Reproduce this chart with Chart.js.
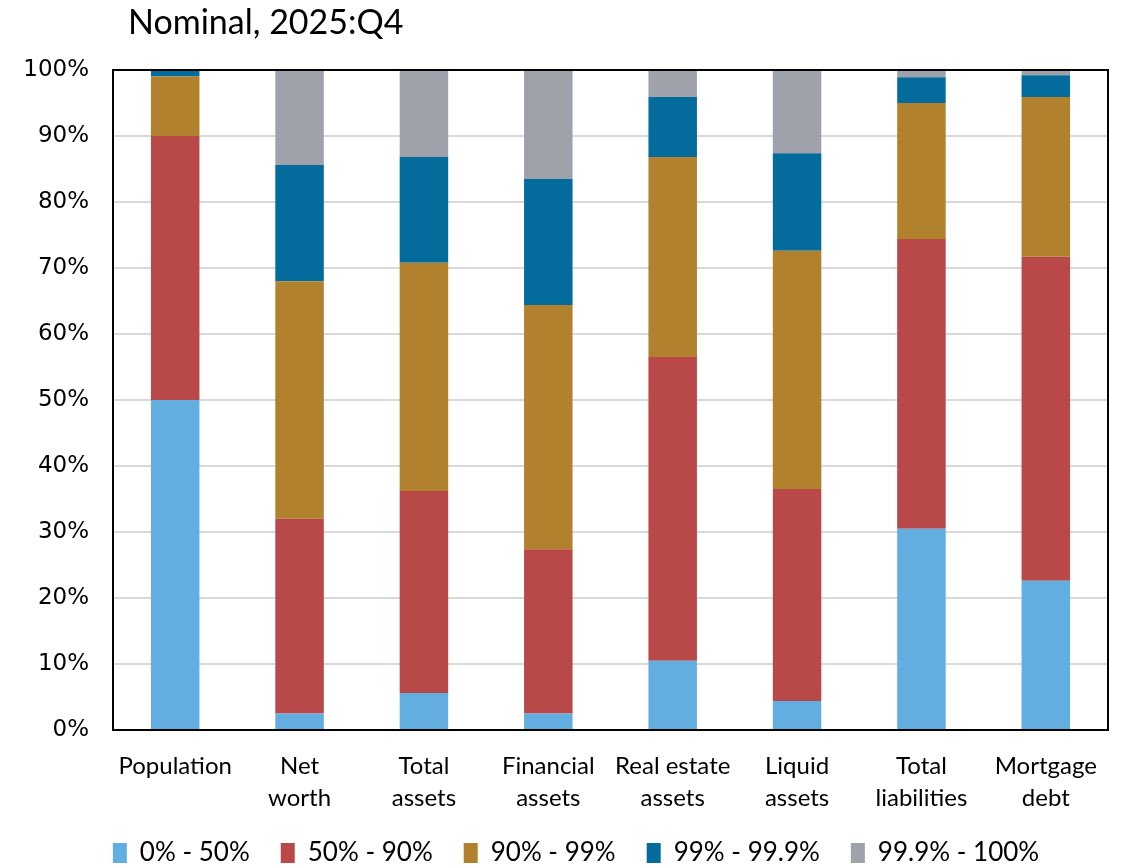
<!DOCTYPE html>
<html>
<head>
<meta charset="utf-8">
<script src="https://cdn.jsdelivr.net/npm/chart.js@4.4.1/dist/chart.umd.min.js"></script>
<style>
	html, body { margin: 0; padding: 0; background: #fff; }
	#wrap { position: relative; width: 1132px; height: 868px; }
	#title { position: absolute; left: 128px; top: 0px; font: 34px Lato, sans-serif; color: #000; }
	canvas { position: absolute; left: 0; top: 0; }
</style>
</head>
<body>
<div id="wrap">
	<canvas id="c" width="1132" height="868"></canvas>
	<div id="title">Nominal, 2025:Q4</div>
</div>
<script>
var categories = [
	["Population"],
	["Net", "worth"],
	["Total", "assets"],
	["Financial", "assets"],
	["Real estate", "assets"],
	["Liquid", "assets"],
	["Total", "liabilities"],
	["Mortgage", "debt"]
];

var seriesNames = ["0% - 50%", "50% - 90%", "90% - 99%", "99% - 99.9%", "99.9% - 100%"];

var bottom50  = [50.0,  2.5,  5.6,  2.5, 10.5,  4.4, 30.5, 22.6];
var next40    = [40.0, 29.5, 30.6, 24.9, 46.0, 32.1, 43.9, 49.1];
var next9     = [ 9.0, 36.0, 34.6, 37.0, 30.3, 36.1, 20.6, 24.2];
var next09    = [ 0.9, 17.6, 16.0, 19.1,  9.1, 14.8,  3.9,  3.3];
var top01     = [ 0.1, 14.4, 13.2, 16.5,  4.1, 12.6,  1.1,  0.8];

var colors = ["#62aee0", "#b94848", "#b1812e", "#046c9c", "#9fa2aa"];

var yTicks = [0, 10, 20, 30, 40, 50, 60, 70, 80, 90, 100];

var allSeries = [bottom50, next40, next9, next09, top01];

var datasets = [];
for(var i = 0; i < allSeries.length; i++) {
	datasets.push({
		label: seriesNames[i],
		data: allSeries[i],
		backgroundColor: colors[i],
		borderWidth: 0,
		categoryPercentage: 1.0,
		barPercentage: 0.39
	});
}

// black frame round the plot area
var framePlugin = {
	id: "frame",
	afterDatasetsDraw: function(chart) {
		var a = chart.chartArea;
		var ctx = chart.ctx;
		ctx.save();
		ctx.strokeStyle = "#000";
		ctx.lineWidth = 2;
		ctx.strokeRect(a.left, a.top, a.right - a.left, a.bottom - a.top);
		ctx.restore();
	}
};

// the legend padding also spaces the items apart; pull the row back up and over
var legendShift = {
	id: "legendShift",
	afterLayout: function(chart) {
		var lg = chart.legend;
		lg.top -= 27;
		lg.bottom = chart.height;
		lg.height = lg.bottom - lg.top;
		lg.left += 22;
		lg.right += 22;
	}
};

new Chart(document.getElementById("c").getContext("2d"), {
	type: "bar",
	data: { labels: categories, datasets: datasets },
	plugins: [framePlugin, legendShift],
	options: {
		responsive: false,
		animation: false,
		layout: { padding: { top: 70, left: 0, right: 24, bottom: 0 } },
		plugins: {
			title: { display: false },
			tooltip: { enabled: false },
			legend: {
				position: "bottom",
				maxHeight: 32,
				labels: {
					font: { family: "Lato", size: 26 },
					color: "#000",
					boxWidth: 14,
					boxHeight: 20,
					padding: 31
				}
			}
		},
		scales: {
			x: {
				stacked: true,
				grid: { display: false },
				border: { display: false },
				ticks: {
					font: { family: "Lato", size: 24, lineHeight: 1.35 },
					color: "#000",
					padding: 12,
					maxRotation: 0,
					autoSkip: false
				},
				afterFit: function(s) { s.height = 106; }
			},
			y: {
				stacked: true,
				min: 0,
				max: 100,
				grid: { color: "#d9d9d9", lineWidth: 2, drawTicks: false },
				border: { display: false },
				afterBuildTicks: function(s) {
					s.ticks = yTicks.map(function(v) { return { value: v }; });
				},
				ticks: {
					font: { family: "DejaVu Sans", size: 23 },
					color: "#000",
					padding: 24,
					callback: function(v) { return v + "%"; }
				},
				afterFit: function(s) { s.width = 113; }
			}
		}
	}
});
</script>
</body>
</html>
